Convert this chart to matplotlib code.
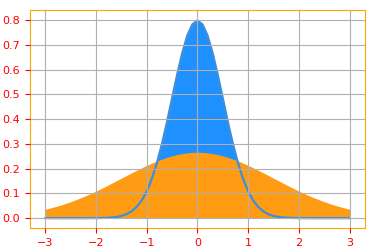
import numpy as np
import matplotlib
matplotlib.use("Agg")
import matplotlib.pyplot as plt

x_values = np.linspace(-3, 3, 61)

narrow_right = [0.798, 0.782, 0.737, 0.666, 0.579, 0.484, 0.388, 0.299, 0.222, 0.158,
                0.108, 0.0709, 0.0448, 0.0272, 0.0158, 0.0089, 0.0048, 0.0025, 0.0012,
                0.0006, 0.0003, 0.0001, 0.0001, 0.0, 0.0, 0.0, 0.0, 0.0, 0.0, 0.0, 0.0]
narrow_values = [0.0, 0.0, 0.0, 0.0, 0.0, 0.0, 0.0, 0.0, 0.0001, 0.0001, 0.0003,
                 0.0006, 0.0012, 0.0025, 0.0048, 0.0089, 0.0158, 0.0272, 0.0448, 0.0709,
                 0.108, 0.158, 0.222, 0.299, 0.388, 0.484, 0.579, 0.666, 0.737, 0.782,
                 0.798,
                 0.782, 0.737, 0.666, 0.579, 0.484, 0.388, 0.299, 0.222, 0.158,
                 0.108, 0.0709, 0.0448, 0.0272, 0.0158, 0.0089, 0.0048, 0.0025, 0.0012,
                 0.0006, 0.0003, 0.0001, 0.0001, 0.0, 0.0, 0.0, 0.0, 0.0, 0.0, 0.0, 0.0]

wide_values = [0.0360, 0.0410, 0.0466, 0.0526, 0.0592, 0.0663, 0.0740, 0.0821, 0.0907,
               0.0998, 0.1093, 0.1193, 0.1295, 0.1400, 0.1506, 0.1613, 0.1721, 0.1827,
               0.1931, 0.2033, 0.2130, 0.2222, 0.2307, 0.2385, 0.2455, 0.2516, 0.2567,
               0.2607, 0.2636, 0.2654, 0.2660,
               0.2654, 0.2636, 0.2607, 0.2567, 0.2516, 0.2455, 0.2385, 0.2307, 0.2222,
               0.2130, 0.2033, 0.1931, 0.1827, 0.1721, 0.1613, 0.1506, 0.1400, 0.1295,
               0.1193, 0.1093, 0.0998, 0.0907, 0.0821, 0.0740, 0.0663, 0.0592, 0.0526,
               0.0466, 0.0410, 0.0360]

fig = plt.figure(figsize=(3.75, 2.52), dpi=100)
ax = fig.add_axes([0.08, 0.095, 0.893, 0.865])

ax.fill_between(x_values, narrow_values, color="#1e90ff", linewidth=0)
ax.fill_between(x_values, wide_values, color="#ff9c14", linewidth=0)
ax.plot(x_values, narrow_values, color="#3d8fdc", linewidth=1.6)

ax.set_xlim(-3.3, 3.3)
ax.set_ylim(-0.04, 0.84)
ax.set_xticks([-3, -2, -1, 0, 1, 2, 3])
ax.set_yticks([0.0, 0.1, 0.2, 0.3, 0.4, 0.5, 0.6, 0.7, 0.8])
ax.set_yticklabels(["0.0", "0.1", "0.2", "0.3", "0.4", "0.5", "0.6", "0.7", "0.8"])
ax.set_axisbelow(False)
ax.grid(True, color="#b0b0b0", linewidth=0.8)
ax.tick_params(colors="red", labelcolor="red", labelsize=8)
for s in ax.spines.values():
    s.set_color("orange")

fig.savefig("out.png", dpi=100)
